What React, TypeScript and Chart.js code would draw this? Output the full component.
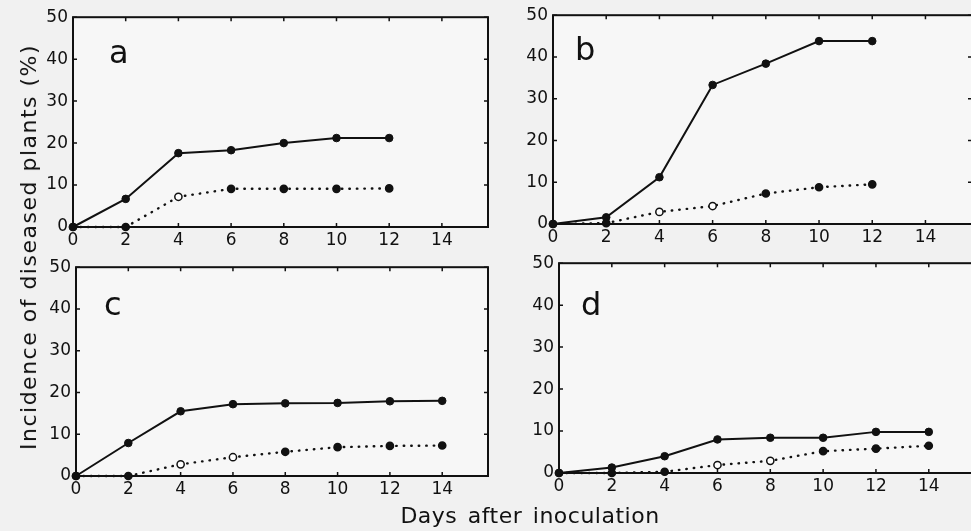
import React, { useEffect, useRef } from "react";
import { Chart, registerables } from "chart.js";

Chart.register(...registerables);

// ---- data ----
const days = [0, 2, 4, 6, 8, 10, 12, 14];
const xTicks = [0, 2, 4, 6, 8, 10, 12, 14];
const yTicks = [0, 10, 20, 30, 40, 50];

const aSolid = [0, 6.7, 17.6, 18.3, 20.0, 21.2, 21.2];
const aDotted = [0, 0, 7.2, 9.1, 9.1, 9.1, 9.2];
const aOpen = [2];

const bSolid = [0, 1.6, 11.2, 33.3, 38.4, 43.8, 43.8];
const bDotted = [0, 0.2, 2.9, 4.3, 7.3, 8.8, 9.5];
const bOpen = [2, 3];

const cSolid = [0, 7.9, 15.5, 17.2, 17.4, 17.5, 17.9, 18.0];
const cDotted = [0, 0, 2.8, 4.5, 5.8, 6.9, 7.2, 7.3];
const cOpen = [2, 3];

const dSolid = [0, 1.3, 4.0, 8.0, 8.4, 8.4, 9.8, 9.8];
const dDotted = [0, 0, 0.3, 1.9, 2.9, 5.2, 5.8, 6.5];
const dOpen = [3, 4];

const panelLetters = ["a", "b", "c", "d"];
const yTitle = "Incidence of diseased plants (%)";
const xTitle = "Days after inoculation";

const X_MAX = 15.75;
const Y_MAX = 50;
const FONT = "'DejaVu Sans', sans-serif";
const INK = "#111111";

type PanelProps = {
  L: number; T: number; R: number; B: number;
  solid: number[]; dotted: number[]; open: number[];
  letter: string; ldx: number; ldy: number;
};

const framePlugin = {
  id: "frame",
  beforeDatasetsDraw(chart: any) {
    const { ctx, chartArea } = chart;
    const { left, top, right, bottom } = chartArea;
    const xs = chart.scales.x;
    const ys = chart.scales.y;
    ctx.save();
    ctx.fillStyle = "#f7f7f7";
    ctx.fillRect(left, top, right - left, bottom - top);
    ctx.strokeStyle = INK;
    ctx.lineWidth = 2;
    ctx.strokeRect(left, top, right - left, bottom - top);
    ctx.lineWidth = 1.5;
    const tl = 4;
    ctx.beginPath();
    xTicks.forEach((v) => {
      const px = xs.getPixelForValue(v);
      ctx.moveTo(px, bottom);
      ctx.lineTo(px, bottom - tl);
      ctx.moveTo(px, top);
      ctx.lineTo(px, top + tl);
    });
    yTicks.forEach((v) => {
      const py = ys.getPixelForValue(v);
      ctx.moveTo(left, py);
      ctx.lineTo(left + tl, py);
      ctx.moveTo(right, py);
      ctx.lineTo(right - tl, py);
    });
    ctx.stroke();
    const opt = chart.options.plugins.frame || {};
    ctx.fillStyle = INK;
    ctx.font = `32px ${FONT}`;
    ctx.textBaseline = "alphabetic";
    ctx.textAlign = "left";
    ctx.fillText(opt.letter || "", left + (opt.ldx || 0), top + (opt.ldy || 0));
    ctx.restore();
  },
};

function Panel(p: PanelProps) {
  const ref = useRef<HTMLCanvasElement>(null);
  const cLeft = p.L - 50;
  const cTop = p.T - 15;
  const cRight = p.R + 10;
  const cBottom = p.B + 28;
  const w = cRight - cLeft;
  const h = cBottom - cTop;

  useEffect(() => {
    if (!ref.current) return;
    const mk = (vals: number[]) => vals.map((y, i) => ({ x: days[i], y }));
    const dottedFill = p.dotted.map((_, i) => (p.open.includes(i) ? "#ffffff" : INK));
    const chart = new Chart(ref.current, {
      type: "line",
      data: {
        datasets: [
          {
            data: mk(p.dotted),
            borderColor: INK,
            borderWidth: 2.4,
            borderDash: [0.5, 7],
            borderCapStyle: "round",
            pointRadius: 3.6,
            pointBorderWidth: 1.5,
            pointBackgroundColor: dottedFill,
            pointBorderColor: INK,
            clip: false,
            tension: 0,
          },
          {
            data: mk(p.solid),
            borderColor: INK,
            borderWidth: 2,
            pointRadius: 3.8,
            pointBorderWidth: 1,
            pointBackgroundColor: INK,
            pointBorderColor: INK,
            clip: false,
            tension: 0,
          },
        ],
      },
      options: {
        animation: false,
        responsive: false,
        maintainAspectRatio: false,
        layout: { padding: { top: p.T - cTop, right: cRight - p.R, left: 0, bottom: 0 } },
        plugins: {
          legend: { display: false },
          tooltip: { enabled: false },
          frame: { letter: p.letter, ldx: p.ldx, ldy: p.ldy },
        } as any,
        scales: {
          x: {
            type: "linear",
            min: 0,
            max: X_MAX,
            grid: { display: false, drawTicks: false },
            border: { display: false },
            afterBuildTicks: (s: any) => { s.ticks = xTicks.map((v) => ({ value: v })); },
            afterFit: (s: any) => { s.height = cBottom - p.B; },
            ticks: { color: INK, font: { family: FONT, size: 17 }, padding: 3, maxRotation: 0, autoSkip: false },
          },
          y: {
            type: "linear",
            min: 0,
            max: Y_MAX,
            grid: { display: false, drawTicks: false },
            border: { display: false },
            afterBuildTicks: (s: any) => { s.ticks = yTicks.map((v) => ({ value: v })); },
            afterFit: (s: any) => { s.width = p.L - cLeft; },
            ticks: { color: INK, font: { family: FONT, size: 17 }, padding: 5 },
          },
        },
      } as any,
      plugins: [framePlugin],
    });
    return () => chart.destroy();
  }, []);

  return (
    <canvas
      ref={ref}
      width={w}
      height={h}
      style={{ position: "absolute", left: cLeft, top: cTop, width: w, height: h }}
    />
  );
}

export default function App() {
  return (
    <div
      style={{
        position: "absolute",
        left: 0,
        top: 0,
        width: 971,
        height: 531,
        overflow: "hidden",
        background: "#f1f1f1",
        fontFamily: FONT,
      }}
    >
      <Panel L={73} T={17} R={488} B={227} solid={aSolid} dotted={aDotted} open={aOpen} letter={panelLetters[0]} ldx={36} ldy={46} />
      <Panel L={553} T={15} R={972} B={224} solid={bSolid} dotted={bDotted} open={bOpen} letter={panelLetters[1]} ldx={22} ldy={45} />
      <Panel L={76} T={267} R={488} B={476} solid={cSolid} dotted={cDotted} open={cOpen} letter={panelLetters[2]} ldx={28} ldy={48} />
      <Panel L={559} T={263} R={975} B={473} solid={dSolid} dotted={dDotted} open={dOpen} letter={panelLetters[3]} ldx={22} ldy={52} />
      <div
        style={{
          position: "absolute",
          left: 29,
          top: 247,
          transform: "translate(-50%, -50%) rotate(-90deg)",
          whiteSpace: "nowrap",
          fontSize: 22,
          letterSpacing: 1.5,
          color: INK,
          lineHeight: "24px",
        }}
      >
        {yTitle}
      </div>
      <div
        style={{
          position: "absolute",
          left: 530,
          top: 516,
          transform: "translate(-50%, -50%)",
          whiteSpace: "nowrap",
          fontSize: 22,
          letterSpacing: 0.5,
          wordSpacing: 3,
          color: INK,
          lineHeight: "24px",
        }}
      >
        {xTitle}
      </div>
    </div>
  );
}
